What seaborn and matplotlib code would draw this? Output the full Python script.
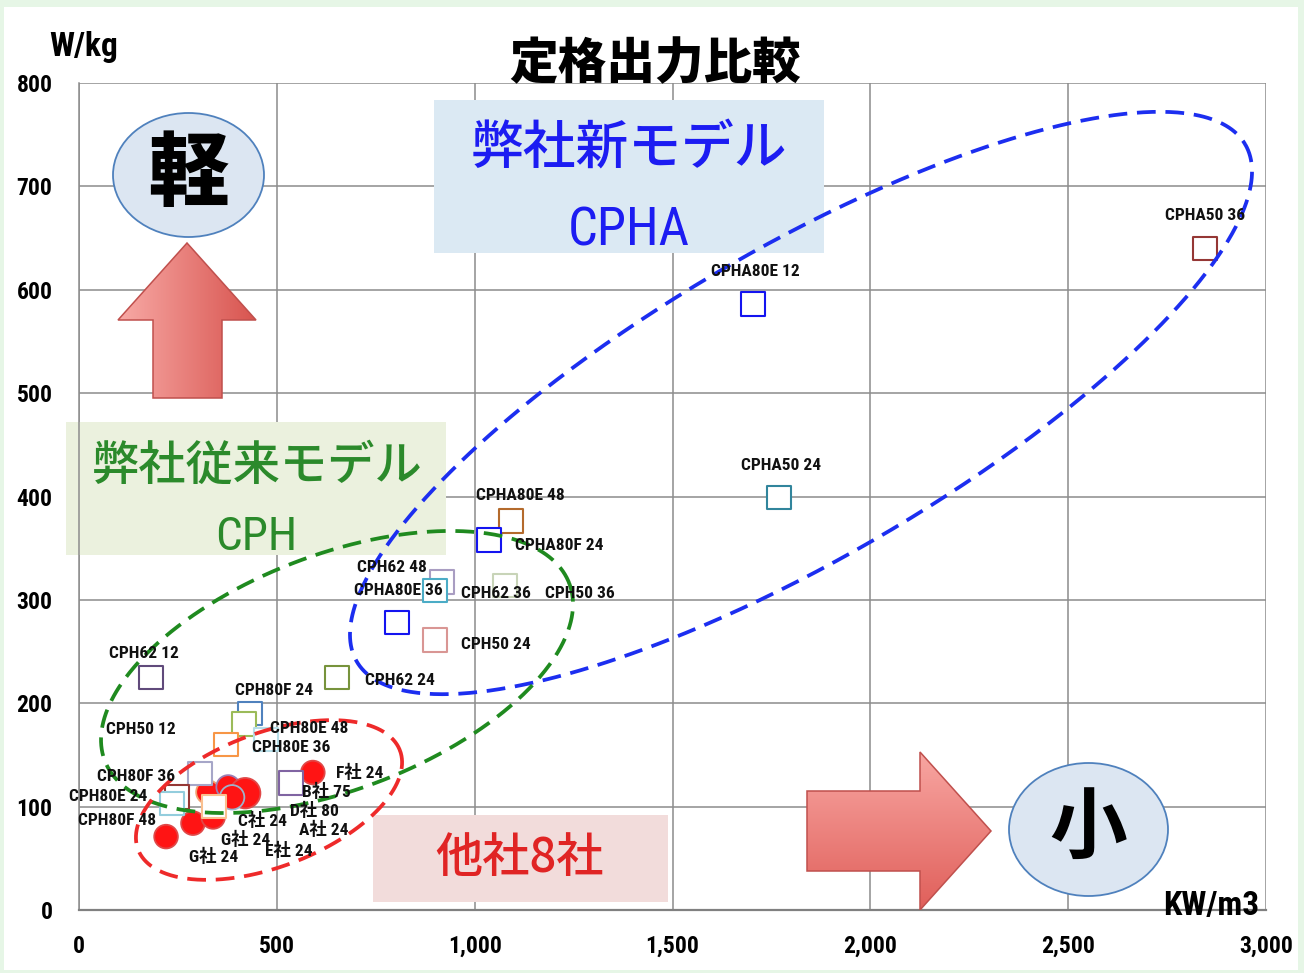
import numpy as np
import pandas as pd
import matplotlib
matplotlib.use("Agg")
import matplotlib.pyplot as plt
import seaborn as sns
from matplotlib import font_manager as fm
from matplotlib.patches import Rectangle, Ellipse, Polygon
from matplotlib.colors import LinearSegmentedColormap
from matplotlib.ticker import FuncFormatter

# ---------------- data ----------------
title = "定格出力比較"
x_label = "KW/m3"
y_label = "W/kg"
x_ticks = [0, 500, 1000, 1500, 2000, 2500, 3000]
y_ticks = [0, 100, 200, 300, 400, 500, 600, 700, 800]

# own models (hollow squares)
square_models = ["CPHA50 36", "CPHA80E 12", "CPHA50 24", "CPHA80E 48", "CPHA80F 24",
                 "CPH62 48", "CPHA80E 36", "CPH62 36", "CPHA80F 36", "CPH50 24",
                 "CPH62 24", "CPH62 12", "CPH80F 24", "CPH50 12", "CPH80E 48",
                 "CPH80E 36", "CPH80F 36", "CPH80E 24", "CPH80F 48", "CPH50 36",
                 "CPH80E 12"]
square_kw = [2846, 1703, 1769, 1092, 1036, 917, 900, 1077, 804, 900,
             652, 182, 432, 417, 472, 371, 306, 248, 235, 341, 536]
square_wkg = [640, 586, 399, 376, 358, 317, 309, 314, 278, 261,
              225, 225, 190, 180, 165, 160, 132, 109, 103, 100, 123]
square_colors = ["#953735", "#1414f0", "#31859c", "#b46a2c", "#1414f0",
                 "#a99dc2", "#4bacc6", "#c8d4b8", "#1414f0", "#d99694",
                 "#77933c", "#604a7b", "#4f81bd", "#9bbb59", "#b7dee8",
                 "#f79646", "#a6a6c8", "#953735", "#93cddd", "#fac090",
                 "#8064a2"]

# other companies (red circles)
company_names = ["G社 24", "G社 24", "E社 24", "C社 24", "D社 80", "A社 24", "B社 75", "F社 24"]
company_kw = [220, 288, 339, 326, 377, 420, 387, 591]
company_wkg = [71, 84, 90, 114, 119, 113, 109, 133]

# point labels as printed on the chart
label_texts = ["CPHA50 36", "CPHA80E 12", "CPHA50 24", "CPHA80E 48", "CPHA80F 24",
               "CPH62 48", "CPHA80E 36", "CPH62 36", "CPH50 36", "CPH50 24",
               "CPH62 24", "CPH62 12", "CPH80F 24", "CPH50 12", "CPH80E 48",
               "CPH80E 36", "CPH80F 36", "CPH80E 24", "CPH80F 48",
               "F社 24", "B社 75", "D社 80", "A社 24", "C社 24", "G社 24", "E社 24", "G社 24"]
label_x = [2846, 1709, 1774, 1115, 1213, 791, 806, 1054, 1266, 1054,
           811, 164, 493, 157, 581, 536, 144, 73, 96,
           710, 624, 594, 619, 465, 420, 531, 339]
label_y = [672, 618, 430, 401, 353, 331, 309, 306, 306, 257,
           222, 248, 212, 175, 176, 157, 129, 110, 87,
           133, 115, 96, 78, 87, 68, 58, 52]

# ---------------- fonts ----------------
def has_font(name):
    try:
        fm.findfont(fm.FontProperties(family=name), fallback_to_default=False)
        return True
    except Exception:
        return False

NARROW = None
for cand in ["Liberation Sans Narrow", "Roboto Condensed", "Open Sans Condensed", "DejaVu Sans Condensed"]:
    if has_font(cand):
        NARROW = cand
        break
if NARROW is None:
    NARROW = "Liberation Sans"
    scale = 0.84
else:
    scale = 1.0
CJK = "Noto Sans CJK JP"

sns.set_theme(style="white")
plt.rcParams['font.family'] = [NARROW, CJK, 'DejaVu Sans']
plt.rcParams['font.weight'] = 'bold'
plt.rcParams['axes.unicode_minus'] = False

# ---------------- layout ----------------
W, H = 1304, 973
AX_L, AX_R, AX_T, AX_B = 79, 1266, 83, 910
AX_W, AX_H = AX_R - AX_L, AX_B - AX_T
XMAX, YMAX = 3000, 800

def P(px, py):
    return (px - AX_L) * XMAX / AX_W, (AX_B - py) * YMAX / AX_H

fig = plt.figure(figsize=(W / 100, H / 100), dpi=100)
fig.patch.set_facecolor("#e6f6e6")
fig.add_artist(Rectangle((4 / W, 3 / H), (W - 10) / W, (H - 10) / H,
                         transform=fig.transFigure, facecolor="white",
                         edgecolor="none", zorder=-5))
ax = fig.add_axes([AX_L / W, (H - AX_B) / H, AX_W / W, AX_H / H])
ax.set_facecolor("white")

# ---------------- boxes / decorations ----------------
def box(px0, py0, px1, py1, color):
    x0, y0 = P(px0, py1)
    x1, y1 = P(px1, py0)
    ax.add_patch(Rectangle((x0, y0), x1 - x0, y1 - y0, facecolor=color,
                           edgecolor="none", zorder=2, clip_on=False))

box(434, 100, 824, 253, "#dbe9f3")
box(66, 422, 446, 555, "#ebf1de")
box(373, 815, 668, 902, "#f2dcdb")

def grad_poly(pverts, c1, c2, direction):
    verts = [P(*v) for v in pverts]
    poly = Polygon(verts, closed=True, facecolor="none", edgecolor="#c0504d",
                   lw=1.1, zorder=2.6)
    ax.add_patch(poly)
    xs = [v[0] for v in verts]
    ys = [v[1] for v in verts]
    if direction == "h":
        g = np.linspace(0, 1, 256).reshape(1, -1)
    else:
        g = np.linspace(0, 1, 256).reshape(-1, 1)
    cmap = LinearSegmentedColormap.from_list("g", [c1, c2])
    im = ax.imshow(g, extent=[min(xs), max(xs), min(ys), max(ys)], cmap=cmap,
                   aspect="auto", origin="upper", zorder=2.5, interpolation="bilinear")
    im.set_clip_path(poly)

grad_poly([(187, 243), (256, 320), (222, 320), (222, 398), (153, 398), (153, 320), (118, 320)],
          "#f8aaa6", "#d8544f", "h")
grad_poly([(807, 791), (920, 791), (920, 752), (991, 831), (920, 910), (920, 871), (807, 871)],
          "#f8a6a2", "#e05f5a", "v")

def oval(pcx, pcy, prx, pry, txt, size, weight):
    cx, cy = P(pcx, pcy)
    w = 2 * prx * XMAX / AX_W
    h = 2 * pry * YMAX / AX_H
    ax.add_patch(Ellipse((cx, cy), w, h, facecolor="#dce6f2", edgecolor="#4f81bd",
                         lw=1.3, zorder=2.6, clip_on=False))
    ax.text(cx, cy, txt, ha="center", va="center", fontsize=size, fontweight=weight,
            family=[CJK], color="black", zorder=2.7)

oval(188.5, 175, 75.5, 62, "軽", 58, "heavy")
oval(1088.5, 829.5, 79.5, 66.5, "小", 56, "bold")

# ---------------- scatter marks ----------------
sq = pd.DataFrame({"model": square_models, "kw": square_kw, "wkg": square_wkg})
sns.scatterplot(data=sq, x="kw", y="wkg", hue="model",
                palette=dict(zip(square_models, square_colors)), marker="s",
                s=290, linewidth=1.5, legend=False, ax=ax, zorder=4)
coll = ax.collections[-1]
coll.set_edgecolors(coll.get_facecolors())
coll.set_facecolors("white")

co = pd.DataFrame({"company": company_names, "kw": company_kw, "wkg": company_wkg})
circle_sizes = [290, 290, 290, 290, 290, 480, 310, 290]
circle_edges = ["#e04848", "#e04848", "#e04848", "#f0a070", "#9b7fb5", "#e04848", "#9fb2cc", "#e04848"]
sns.scatterplot(data=co, x="kw", y="wkg", color="#ff1414", s=circle_sizes,
                edgecolor=circle_edges, linewidth=1.3, legend=False, ax=ax, zorder=3)

# ---------------- dashed ellipses ----------------
def dashed_ellipse(pcx, pcy, a, b, theta_deg, color):
    t = np.linspace(0, 2 * np.pi, 600)
    th = np.deg2rad(theta_deg)
    px = pcx + a * np.cos(t) * np.cos(th) + b * np.sin(t) * np.sin(th)
    py = pcy - a * np.cos(t) * np.sin(th) + b * np.sin(t) * np.cos(th)
    xs, ys = P(px, py)
    ax.plot(xs, ys, color=color, lw=2.7, dashes=(5.0, 2.6), zorder=5, clip_on=False)

dashed_ellipse(801, 403, 514, 155, 30.2, "#1c2ef0")
dashed_ellipse(337, 672, 248.6, 117.4, 20.9, "#1f8a1f")
dashed_ellipse(269, 800, 140, 67, 20.7, "#ee2a2a")

# ---------------- texts ----------------
for t, x, y in zip(label_texts, label_x, label_y):
    ax.text(x, y, t, ha="center", va="center", fontsize=12.5 * scale, fontweight="bold",
            family=[NARROW, CJK], color="#111111", zorder=6, clip_on=False)

def ptext(pcx, pcy, txt, size, color, fam, weight="normal"):
    x, y = P(pcx, pcy)
    ax.text(x, y, txt, ha="center", va="center", fontsize=size, color=color,
            family=fam, fontweight=weight, zorder=2.2, clip_on=False)

ptext(629, 150, "弊社新モデル", 38, "#1c1cf2", [CJK], "medium")
ptext(629, 231, "CPHA", 38 * scale, "#1c1cf2", [NARROW, CJK], "normal")
ptext(257, 466, "弊社従来モデル", 34, "#2b8a2b", [CJK], "medium")
ptext(256, 537, "CPH", 34 * scale, "#2b8a2b", [NARROW, CJK], "normal")
ptext(520, 858, "他社8社", 34, "#e02424", [CJK], "medium")

fig.text(655 / W, 1 - 64 / H, title, ha="center", va="center", fontsize=35,
         fontweight="heavy", family=[CJK], color="black")
fig.text(84 / W, 1 - 47 / H, y_label, ha="center", va="center", fontsize=24 * scale,
         fontweight="bold", family=[NARROW], color="black")
kx, ky = P(1211, 906)
ax.text(kx, ky, x_label, ha="center", va="center", fontsize=24 * scale, fontweight="bold",
        family=[NARROW], color="black", zorder=6, clip_on=False)

# ---------------- axes styling ----------------
ax.set_xlim(0, XMAX)
ax.set_ylim(0, YMAX)
ax.set_xticks(x_ticks)
ax.set_yticks(y_ticks)
ax.xaxis.set_major_formatter(FuncFormatter(lambda v, p: f"{int(v):,}"))
ax.yaxis.set_major_formatter(FuncFormatter(lambda v, p: f"{int(v)}"))
ax.set_xlabel("")
ax.set_ylabel("")
ax.grid(True, color="#8c8c8c", lw=1.1)
ax.set_axisbelow(True)
for s in ["top", "right"]:
    ax.spines[s].set_visible(False)
ax.spines["left"].set_color("#8c8c8c")
ax.spines["left"].set_linewidth(1.1)
ax.spines["bottom"].set_color("#808080")
ax.spines["bottom"].set_linewidth(1.6)
ax.tick_params(axis="both", which="major", direction="out", length=5, width=1.1,
               color="#8c8c8c", labelsize=17 * scale, labelcolor="black")
ax.tick_params(axis="x", pad=13)
ax.tick_params(axis="y", pad=14)
for lab in ax.get_xticklabels() + ax.get_yticklabels():
    lab.set_fontweight("bold")

fig.savefig("out.png", dpi=100, facecolor=fig.get_facecolor())
